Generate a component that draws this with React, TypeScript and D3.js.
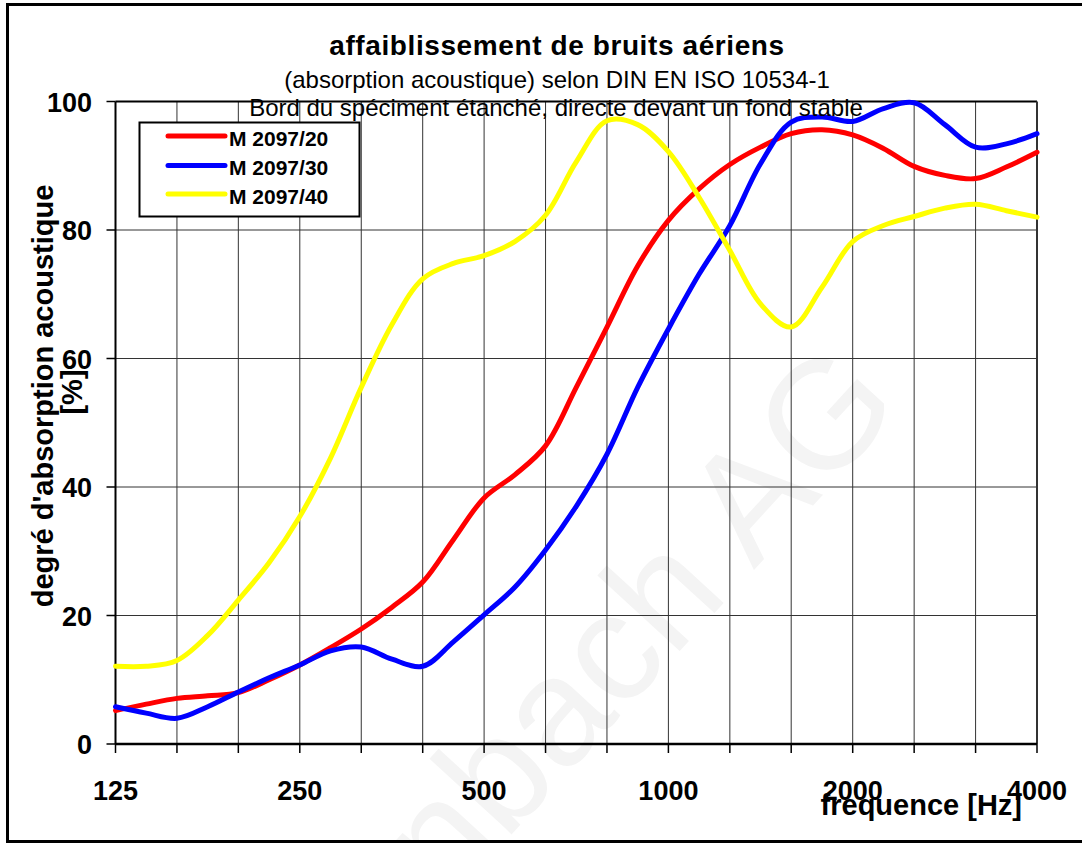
import React from "react";
import * as d3 from "d3";

// ---- data ----
const FREQS = [125, 140.3, 157.5, 176.8, 198.4, 222.7, 250, 280.6, 315, 353.6, 396.9, 445.4, 500, 561.2, 630, 707.1, 793.7, 890.9, 1000, 1122, 1260, 1414, 1587, 1782, 2000, 2245, 2520, 2828, 3175, 3564, 4000];

const M20 = [5.2, 6.2, 7.1, 7.5, 8.0, 10.0, 12.3, 15.0, 17.9, 21.3, 25.2, 31.8, 38.3, 41.9, 46.4, 55.5, 64.9, 74.4, 81.5, 86.4, 90.2, 92.9, 95.0, 95.6, 94.8, 92.7, 89.9, 88.5, 88.0, 89.8, 92.1];
const M30 = [5.8, 4.8, 4.0, 5.8, 8.1, 10.3, 12.3, 14.5, 15.1, 13.2, 12.1, 15.9, 20.1, 24.4, 30.2, 37.0, 45.1, 55.5, 64.6, 73.1, 80.7, 90.3, 96.8, 97.6, 96.9, 98.9, 99.8, 96.4, 92.9, 93.4, 95.0];
const M40 = [12.1, 12.1, 13.0, 16.9, 22.4, 28.2, 35.4, 44.5, 55.5, 65.3, 72.4, 74.8, 76.0, 78.2, 82.3, 90.6, 97.0, 96.4, 92.2, 85.1, 76.8, 68.5, 64.9, 71.1, 78.2, 80.7, 82.1, 83.4, 84.0, 83.0, 82.0];

const SERIES_NAMES = ["M 2097/20", "M 2097/30", "M 2097/40"];
const SERIES_COLORS = ["#ff0000", "#0000ff", "#ffff00"];

const GRID_FREQS = [125, 157.5, 198.4, 250, 315, 396.9, 500, 630, 793.7, 1000, 1260, 1587, 2000, 2520, 3175, 4000];
const X_LABELS = [125, 250, 500, 1000, 2000, 4000];
const Y_TICKS = [0, 20, 40, 60, 80, 100];

const TITLE = "affaiblissement de bruits aériens";
const SUBTITLE1 = "(absorption acoustique) selon DIN EN ISO 10534-1";
const SUBTITLE2 = "Bord du spéciment étanché, directe devant un fond stable";
const Y_TITLE1 = "degré d'absorption acoustique";
const Y_TITLE2 = "[%]";
const X_TITLE = "frequence [Hz]";
const WATERMARK = "nbach AG";

const FONT = "Arial, 'Liberation Sans', Helvetica, sans-serif";

export default function App() {
  const W = 1082, H = 843;
  const left = 115.5, right = 1037, top = 101.5, bottom = 744;
  const x = d3.scaleLog().base(2).domain([125, 4000]).range([left, right]);
  const y = d3.scaleLinear().domain([0, 100]).range([bottom, top]);

  const seriesData = [M20, M30, M40];
  const line = d3
    .line<number>()
    .x((_, i) => x(FREQS[i]))
    .y((d) => y(d))
    .curve(d3.curveCatmullRom.alpha(0.5));

  const legendX = 139.5, legendY = 122.5, legendW = 220, legendH = 94;
  const legendRows = [136, 165.5, 194];

  return (
    <svg
      width={W}
      height={H}
      viewBox={`0 0 ${W} ${H}`}
      style={{ position: "absolute", left: 0, top: 0, display: "block" }}
      fontFamily={FONT}
    >
      <rect x={0} y={0} width={W} height={H} fill="#ffffff" />

      {/* watermark */}
      <text
        transform={`translate(447,905) rotate(-47.5)`}
        fontSize={154}
        fill="#f4f4f4"
        fontFamily={FONT}
      >
        {WATERMARK}
      </text>

      {/* horizontal gridlines */}
      {Y_TICKS.filter((t) => t > 0 && t < 100).map((t) => (
        <line key={"hg" + t} x1={left} x2={right} y1={y(t)} y2={y(t)} stroke="#333" strokeWidth={1} />
      ))}
      {/* vertical gridlines */}
      {GRID_FREQS.slice(1, -1).map((f) => (
        <line key={"vg" + f} x1={x(f)} x2={x(f)} y1={top} y2={bottom} stroke="#333" strokeWidth={1} />
      ))}

      {/* plot frame */}
      <line x1={left} x2={right} y1={top} y2={top} stroke="#000" strokeWidth={2} />
      <line x1={right} x2={right} y1={top} y2={bottom} stroke="#333" strokeWidth={2} />
      <line x1={left} x2={left} y1={top} y2={bottom} stroke="#000" strokeWidth={2} />
      <line x1={left} x2={right} y1={bottom} y2={bottom} stroke="#000" strokeWidth={2.5} />

      {/* y ticks */}
      {Y_TICKS.map((t) => (
        <g key={"yt" + t}>
          <line x1={left - 9} x2={left} y1={y(t)} y2={y(t)} stroke="#000" strokeWidth={1.5} />
          <text x={92} y={y(t) + 10} textAnchor="end" fontSize={27} fontWeight="bold" fill="#000">
            {t}
          </text>
        </g>
      ))}
      {/* x ticks */}
      {GRID_FREQS.map((f) => (
        <line key={"xt" + f} x1={x(f)} x2={x(f)} y1={bottom} y2={bottom + 9} stroke="#000" strokeWidth={1.5} />
      ))}
      {X_LABELS.map((f) => (
        <text key={"xl" + f} x={x(f)} y={800} textAnchor="middle" fontSize={27} fontWeight="bold" fill="#000">
          {f}
        </text>
      ))}

      {/* series */}
      {seriesData.map((s, i) => (
        <path
          key={"s" + i}
          d={line(s) || ""}
          fill="none"
          stroke={SERIES_COLORS[i]}
          strokeWidth={5}
          strokeLinejoin="round"
          strokeLinecap="round"
        />
      ))}

      {/* titles */}
      <text x={557} y={55} textAnchor="middle" fontSize={28} fontWeight="bold" fill="#000" letterSpacing={0.6}>
        {TITLE}
      </text>
      <text x={557} y={88} textAnchor="middle" fontSize={24} fill="#000">
        {SUBTITLE1}
      </text>
      <text x={556} y={116} textAnchor="middle" fontSize={24} fill="#000">
        {SUBTITLE2}
      </text>

      {/* legend */}
      <rect x={legendX} y={legendY} width={legendW} height={legendH} fill="#fff" stroke="#000" strokeWidth={2} />
      {SERIES_NAMES.map((n, i) => (
        <g key={"lg" + i}>
          <line x1={168} x2={225} y1={legendRows[i]} y2={legendRows[i]} stroke={SERIES_COLORS[i]} strokeWidth={5} strokeLinecap="round" />
          <text x={229} y={legendRows[i] + 9.5} fontSize={21} fontWeight="bold" fill="#000">
            {n}
          </text>
        </g>
      ))}

      {/* axis titles */}
      <text transform="translate(53,396) rotate(-90)" textAnchor="middle" fontSize={29} fontWeight="bold" fill="#000">
        {Y_TITLE1}
      </text>
      <text transform="translate(82,392) rotate(-90)" textAnchor="middle" fontSize={29} fontWeight="bold" fill="#000">
        {Y_TITLE2}
      </text>
      <text x={1022} y={815} textAnchor="end" fontSize={29} fontWeight="bold" fill="#000">
        {X_TITLE}
      </text>

      {/* outer frame */}
      <rect x={7.5} y={4.5} width={1090} height={837} fill="none" stroke="#000" strokeWidth={3} />
    </svg>
  );
}
